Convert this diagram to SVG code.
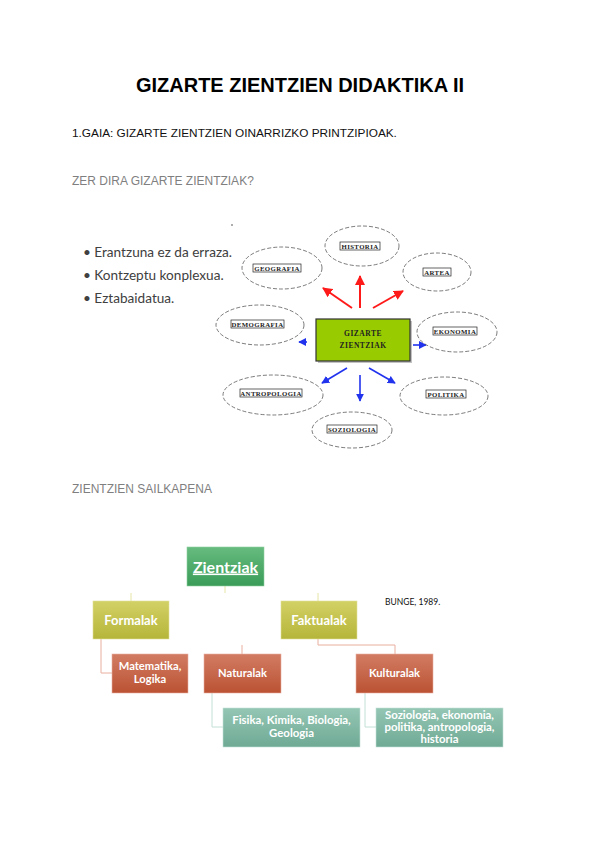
<svg xmlns="http://www.w3.org/2000/svg" width="600" height="848" viewBox="0 0 600 848">
<defs>
<style>
.h{font-family:"Liberation Sans",Arial,sans-serif}
.gray{fill:#7f7f7f}
.bul{font-family:Lato,"Open Sans",sans-serif;font-size:13.6px;fill:#404040}
.ell{fill:#fff;stroke:#444;stroke-width:0.7;stroke-dasharray:4 2}
.lbl{font-family:"Liberation Serif",serif;font-size:6.8px;font-weight:bold;fill:#222;text-anchor:middle;letter-spacing:0.4px}
.lbox{fill:#fff;stroke:#222;stroke-width:0.7}
.org{font-family:Lato,"Open Sans",sans-serif;font-weight:bold;fill:#fff;text-anchor:middle}
.red{stroke:#ff1a1a;stroke-width:2;fill:none}
.blue{stroke:#2233ee;stroke-width:1.6;fill:none}
</style>
<marker id="ar" viewBox="0 0 10 10" refX="9" refY="5" markerWidth="5" markerHeight="5" orient="auto"><path d="M0,0 L10,5 L0,10 z" fill="#ff1a1a"/></marker>
<marker id="ab" viewBox="0 0 10 10" refX="9" refY="5" markerWidth="5" markerHeight="5" orient="auto"><path d="M0,0 L10,5 L0,10 z" fill="#2233ee"/></marker>
<linearGradient id="gG" x1="0" y1="0" x2="0" y2="1"><stop offset="0" stop-color="#66bb7e"/><stop offset="1" stop-color="#3a9c58"/></linearGradient>
<linearGradient id="gY" x1="0" y1="0" x2="0" y2="1"><stop offset="0" stop-color="#d2d165"/><stop offset="1" stop-color="#b6b53a"/></linearGradient>
<linearGradient id="gR" x1="0" y1="0" x2="0" y2="1"><stop offset="0" stop-color="#d27c63"/><stop offset="1" stop-color="#bb5233"/></linearGradient>
<linearGradient id="gT" x1="0" y1="0" x2="0" y2="1"><stop offset="0" stop-color="#94c6b4"/><stop offset="1" stop-color="#6faa95"/></linearGradient>
</defs>
<rect width="600" height="848" fill="#fff"/>

<g id="headings">
<text class="h" x="300" y="92" font-size="20" font-weight="bold" text-anchor="middle" fill="#000">GIZARTE ZIENTZIEN DIDAKTIKA II</text>
<text class="h" x="72" y="137" font-size="11.8" fill="#111">1.GAIA: GIZARTE ZIENTZIEN OINARRIZKO PRINTZIPIOAK.</text>
<text class="h gray" x="72" y="185" font-size="12">ZER DIRA GIZARTE ZIENTZIAK?</text>
<text class="h gray" x="72" y="493" font-size="12">ZIENTZIEN SAILKAPENA</text>
</g>

<g id="bullets">
<circle cx="232" cy="225" r="0.8" fill="#444"/>
<text class="bul" x="83" y="257">• Erantzuna ez da erraza.</text>
<text class="bul" x="83" y="280">• Kontzeptu konplexua.</text>
<text class="bul" x="83" y="303">• Eztabaidatua.</text>
</g>

<g id="connectors-top">
<line class="red" x1="352" y1="308" x2="323" y2="288" marker-end="url(#ar)"/>
<line class="red" x1="360" y1="308" x2="360" y2="276" marker-end="url(#ar)"/>
<line class="red" x1="373" y1="308" x2="403" y2="291" marker-end="url(#ar)"/>
<line class="blue" x1="307" y1="342" x2="299" y2="342" marker-end="url(#ab)"/>
<line class="blue" x1="413" y1="345" x2="426" y2="345" marker-end="url(#ab)"/>
<line class="blue" x1="347" y1="368" x2="322" y2="383" marker-end="url(#ab)"/>
<line class="blue" x1="360" y1="375" x2="360" y2="401" marker-end="url(#ab)"/>
<line class="blue" x1="369" y1="368" x2="395" y2="383" marker-end="url(#ab)"/>
</g>

<g id="n-historia"><ellipse class="ell" cx="362" cy="246" rx="37" ry="20"/><rect class="lbox" x="340" y="242" width="40" height="8"/><text class="lbl" x="360" y="248.5">HISTORIA</text></g>
<g id="n-geografia"><ellipse class="ell" cx="282" cy="268" rx="40" ry="21"/><rect class="lbox" x="253" y="264" width="48" height="8"/><text class="lbl" x="277" y="270.5">GEOGRAFIA</text></g>
<g id="n-artea"><ellipse class="ell" cx="437" cy="272" rx="34" ry="19"/><rect class="lbox" x="423" y="268" width="28" height="8"/><text class="lbl" x="437" y="274.5">ARTEA</text></g>
<g id="n-demografia"><ellipse class="ell" cx="260" cy="325" rx="44" ry="20"/><rect class="lbox" x="231" y="320" width="53" height="8"/><text class="lbl" x="257.5" y="326.5">DEMOGRAFIA</text></g>
<g id="n-ekonomia"><ellipse class="ell" cx="457" cy="332" rx="40" ry="20"/><rect class="lbox" x="433" y="327" width="44" height="8"/><text class="lbl" x="455" y="333.5">EKONOMIA</text></g>
<g id="n-antropologia"><ellipse class="ell" cx="273" cy="395" rx="50" ry="20"/><rect class="lbox" x="240" y="389" width="62" height="8"/><text class="lbl" x="271" y="395.5">ANTROPOLOGIA</text></g>
<g id="n-politika"><ellipse class="ell" cx="444" cy="396" rx="44" ry="19"/><rect class="lbox" x="426" y="390" width="40" height="8"/><text class="lbl" x="446" y="396.5">POLITIKA</text></g>
<g id="n-soziologia"><ellipse class="ell" cx="352" cy="430" rx="40" ry="18"/><rect class="lbox" x="327" y="425" width="50" height="8"/><text class="lbl" x="352" y="431.5">SOZIOLOGIA</text></g>

<g id="n-gizarte">
<rect x="318" y="321" width="94" height="42" fill="#9a9a9a" opacity="0.6"/>
<rect x="316" y="319" width="94" height="42" fill="#99cc00" stroke="#333" stroke-width="1.2"/>
<text x="363" y="336" font-family="Liberation Serif,serif" font-size="7.5" font-weight="bold" text-anchor="middle" fill="#222" letter-spacing="0.5">GIZARTE</text>
<text x="363" y="348" font-family="Liberation Serif,serif" font-size="7.5" font-weight="bold" text-anchor="middle" fill="#222" letter-spacing="0.5">ZIENTZIAK</text>
</g>

<g id="connectors-org" fill="none" stroke-width="1">
<path d="M225,586 V593" stroke="#e6e6a8"/>
<path d="M131,593 V601" stroke="#e6e6a8"/>
<path d="M318,593 V601" stroke="#e6e6a8"/>
<path d="M101,639 V673 H112" stroke="#e8b0a0"/>
<path d="M318,639 V645 H395 V654" stroke="#e8b0a0"/>
<path d="M242,645 V654" stroke="#e8b0a0"/>
<path d="M212,693 V727 H223" stroke="#c4e0d6"/>
<path d="M365,693 V727 H376" stroke="#c4e0d6"/>
</g>

<g id="n-zientziak"><rect x="187" y="547" width="77" height="39" fill="url(#gG)" stroke="#8fd0a0" stroke-width="0.6"/><text class="org" x="225.5" y="572.5" font-size="16" text-decoration="underline">Zientziak</text></g>
<g id="n-formalak"><rect x="93" y="601" width="76" height="38" fill="url(#gY)" stroke="#e0e09a" stroke-width="0.6"/><text class="org" x="131" y="624.5" font-size="13">Formalak</text></g>
<g id="n-faktualak"><rect x="281" y="601" width="76" height="38" fill="url(#gY)" stroke="#e0e09a" stroke-width="0.6"/><text class="org" x="319" y="624.5" font-size="13">Faktualak</text></g>
<g id="n-bunge"><text x="385" y="605" font-family="Lato,sans-serif" font-size="8.5" fill="#111">BUNGE, 1989.</text></g>
<g id="n-matematika"><rect x="112" y="654" width="76" height="39" fill="url(#gR)" stroke="#e8b0a0" stroke-width="0.6"/><text class="org" x="150" y="670" font-size="11.2">Matematika,</text><text class="org" x="150" y="682.5" font-size="11.2">Logika</text></g>
<g id="n-naturalak"><rect x="204" y="654" width="77" height="39" fill="url(#gR)" stroke="#e8b0a0" stroke-width="0.6"/><text class="org" x="242.5" y="677" font-size="11.2">Naturalak</text></g>
<g id="n-kulturalak"><rect x="356" y="654" width="77" height="39" fill="url(#gR)" stroke="#e8b0a0" stroke-width="0.6"/><text class="org" x="394.5" y="677" font-size="11.2">Kulturalak</text></g>
<g id="n-fisika"><rect x="223" y="708" width="137" height="39" fill="url(#gT)" stroke="#c4e0d6" stroke-width="0.6"/><text class="org" x="291.5" y="724" font-size="11.4">Fisika, Kimika, Biologia,</text><text class="org" x="291.5" y="736.5" font-size="11.4">Geologia</text></g>
<g id="n-soziologia2"><rect x="376" y="708" width="127" height="39" fill="url(#gT)" stroke="#c4e0d6" stroke-width="0.6"/><text class="org" x="439.5" y="719" font-size="11.4">Soziologia, ekonomia,</text><text class="org" x="439.5" y="731" font-size="11.4">politika, antropologia,</text><text class="org" x="439.5" y="743" font-size="11.4">historia</text></g>
</svg>
